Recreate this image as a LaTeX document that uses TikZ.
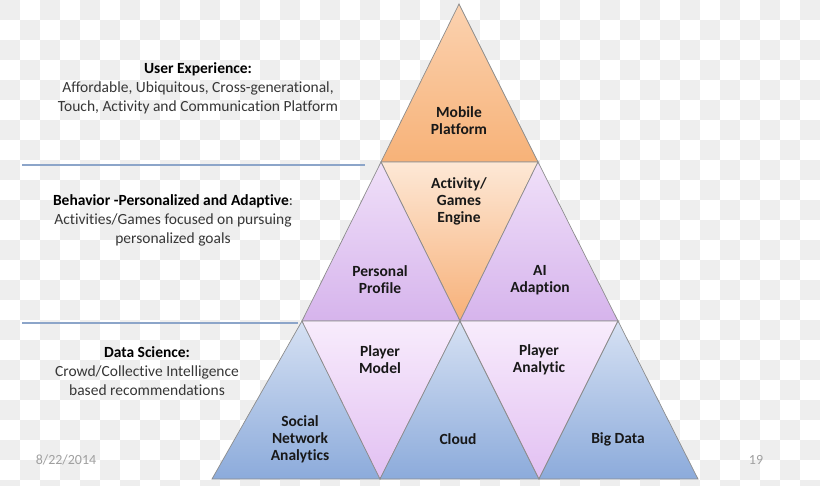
\documentclass[tikz,border=0pt]{standalone}
\usepackage{fontspec}
\setmainfont{Carlito}[Ligatures={NoCommon}]
\usetikzlibrary{positioning}

\definecolor{chkgray}{RGB}{238,238,238}
\definecolor{edgegray}{RGB}{140,140,140}
\definecolor{sepblue}{RGB}{140,165,201}
\definecolor{labeltext}{RGB}{24,24,24}
\definecolor{notetext}{RGB}{55,55,55}
\definecolor{datetext}{RGB}{160,160,160}
\definecolor{orangetop}{RGB}{251,210,176}
\definecolor{orangebot}{RGB}{247,178,120}
\definecolor{peachtop}{RGB}{253,232,214}
\definecolor{peachbot}{RGB}{247,176,120}
\definecolor{lilactop}{RGB}{240,224,249}
\definecolor{lilacbot}{RGB}{214,180,236}
\definecolor{paletop}{RGB}{248,236,252}
\definecolor{palebot}{RGB}{226,192,242}
\definecolor{bluetop}{RGB}{214,225,243}
\definecolor{bluebot}{RGB}{140,171,219}

\begin{document}
\begin{tikzpicture}[x=1pt,y=-1pt,
  tri/.style={draw=edgegray, line width=0.7pt},
  lbl/.style={font=\fontsize{15.5}{17}\selectfont\bfseries, text=labeltext, align=center, inner sep=0pt},
  note/.style={font=\fontsize{15.5}{19}\selectfont, text=notetext, align=center, inner sep=0pt},
  sepline/.style={draw=sepblue, line width=1.2pt},
  datefont/.style={font=\fontsize{14}{16}\selectfont, text=datetext, inner sep=0pt}]

  \useasboundingbox (0,0) rectangle (820,486);

  % checker background
  \begin{scope}
    \clip (0,0) rectangle (820,486);
    \fill[white] (0,0) rectangle (820,486);
    \foreach \i in {0,40,...,800}
      \foreach \j in {0,40,...,480} {
        \fill[chkgray] (\i,\j) rectangle ++(20,20);
        \fill[chkgray] (\i+20,\j+20) rectangle ++(20,20);
      }
  \end{scope}

  % corners of the pyramid
  \coordinate (apex) at (459,4);
  \coordinate (r1l) at (381,162);
  \coordinate (r1r) at (538,162);
  \coordinate (r2a) at (302,321);
  \coordinate (r2b) at (460,321);
  \coordinate (r2c) at (618,321);
  \coordinate (r3a) at (212,479);
  \coordinate (r3b) at (380,479);
  \coordinate (r3c) at (539,479);
  \coordinate (r3d) at (698,479);

  \shade[tri, top color=orangetop, bottom color=orangebot] (apex) -- (r1l) -- (r1r) -- cycle;
  \shade[tri, top color=peachtop, bottom color=peachbot] (r1l) -- (r1r) -- (r2b) -- cycle;
  \shade[tri, top color=lilactop, bottom color=lilacbot] (r1l) -- (r2a) -- (r2b) -- cycle;
  \shade[tri, top color=lilactop, bottom color=lilacbot] (r1r) -- (r2b) -- (r2c) -- cycle;
  \shade[tri, top color=bluetop, bottom color=bluebot] (r2a) -- (r3a) -- (r3b) -- cycle;
  \shade[tri, top color=paletop, bottom color=palebot] (r2a) -- (r2b) -- (r3b) -- cycle;
  \shade[tri, top color=bluetop, bottom color=bluebot] (r2b) -- (r3b) -- (r3c) -- cycle;
  \shade[tri, top color=paletop, bottom color=palebot] (r2b) -- (r2c) -- (r3c) -- cycle;
  \shade[tri, top color=bluetop, bottom color=bluebot] (r2c) -- (r3c) -- (r3d) -- cycle;

  \node [lbl] (mobile) at (459,121) {Mobile\\Platform};
  \node [lbl] (engine) at (459,201) {Activity/\\Games\\Engine};
  \node [lbl] (profile) at (380,280) {Personal\\Profile};
  \node [lbl] (adapt) at (540,280) {AI\\Adaption};
  \node [lbl] (model) at (380,360) {Player\\Model};
  \node [lbl] (analytic) at (539,360) {Player\\Analytic};
  \node [lbl] (social) at (300,439) {Social\\Network\\Analytics};
  \node [lbl] (cloud) at (458,439) {Cloud};
  \node [lbl] (bigdata) at (618,439) {Big Data};

  \draw [sepline] (22,165) -- (365,165);
  \draw [sepline] (22,323) -- (298,323);

  \node [note] (ux) at (198,88) {\textcolor{black}{\bfseries User Experience:}\\
    Affordable, Ubiquitous, Cross-generational,\\
    Touch, Activity and Communication Platform};
  \node [note] (behave) at (173,220) {\textcolor{black}{\bfseries Behavior -Personalized and Adaptive}:\\
    Activities/Games focused on pursuing\\
    personalized goals};
  \node [note] (data) at (147,371) {\textcolor{black}{\bfseries Data Science:}\\
    Crowd/Collective Intelligence\\
    based recommendations};

  \node [datefont] (date) at (66,460) {8/22/2014};
  \node [datefont] (page) at (756,460) {19};
\end{tikzpicture}
\end{document}
